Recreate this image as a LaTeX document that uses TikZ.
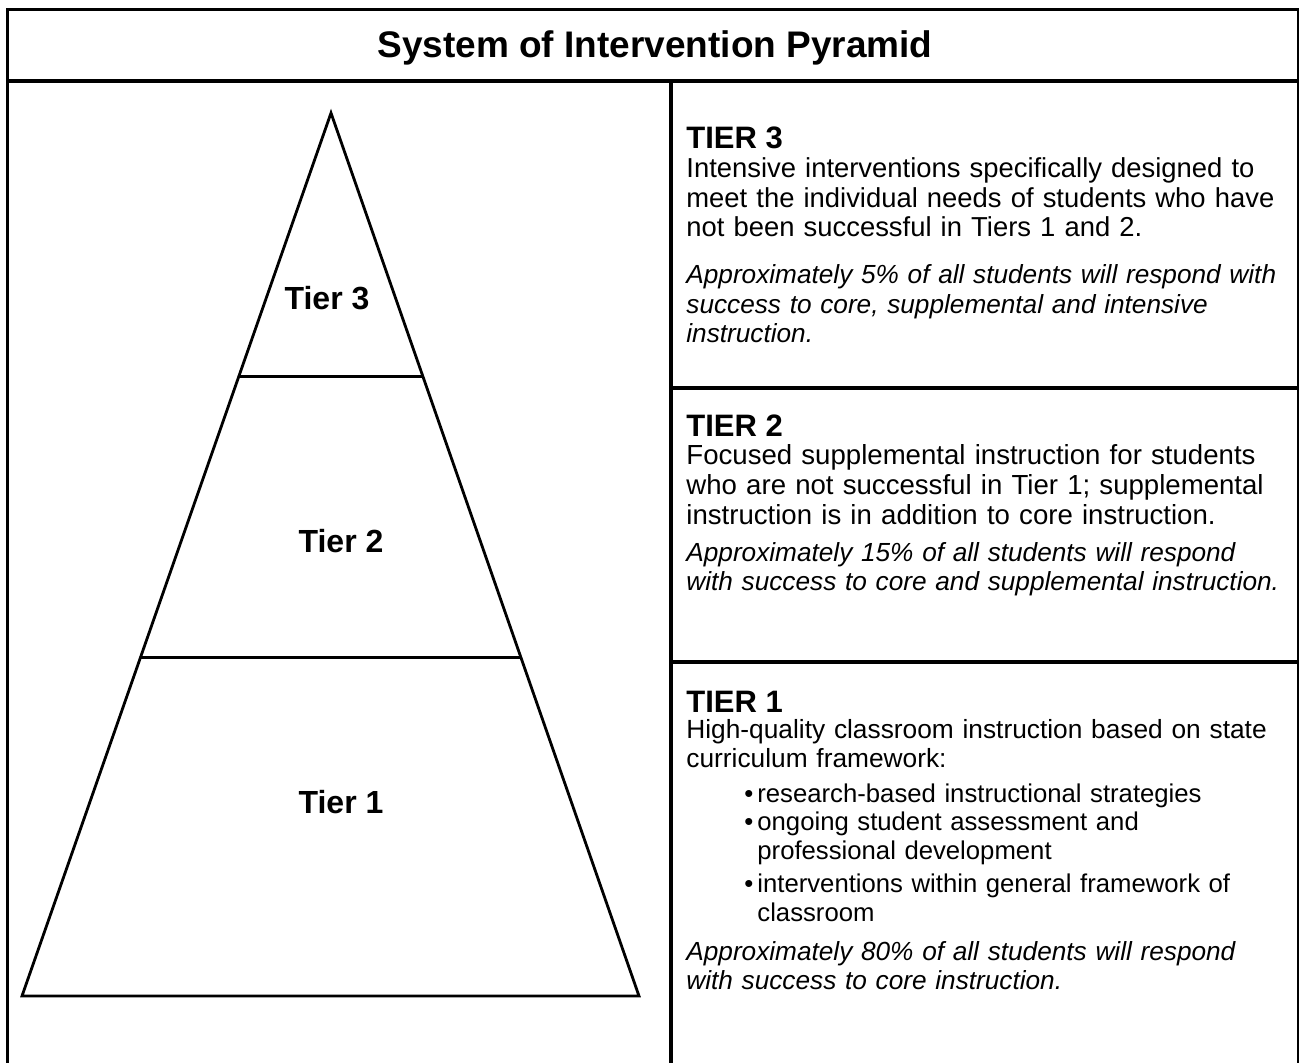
\documentclass[tikz,border=0pt]{standalone}
\usepackage{fontspec}
\setmainfont{Liberation Sans}
\usetikzlibrary{calc}

\tikzset{
  frameline/.style={line width=1.75pt},
  pyrline/.style={line width=1.4pt},
  titletext/.style={font=\fontsize{18.5}{22}\selectfont\bfseries, anchor=base, inner sep=0pt},
  tierlabel/.style={font=\fontsize{16}{19}\selectfont\bfseries, anchor=base, inner sep=0pt},
  tierhead/.style={font=\fontsize{15.5}{18}\selectfont\bfseries, anchor=base west, inner sep=0pt},
  tierbody/.style={font=\fontsize{#1}{14.75}\selectfont, anchor=base west, inner sep=0pt, text width=320pt, align=left},
  tierbody/.default=14,
  tiernote/.style={tierbody, font=\fontsize{13.1}{14.75}\selectfont\itshape},
  tierlist/.style={tierbody, font=\fontsize{12.85}{14.25}\selectfont},
}
\newcommand{\tieritem}[1]{\hspace*{29pt}\makebox[6.5pt][l]{\textbullet}#1}
\newcommand{\tiercont}[1]{\hspace*{35.5pt}#1}

\begin{document}
\begin{tikzpicture}[x=0.5pt, y=-0.5pt]
\useasboundingbox (0,0) rectangle (1299,1063);
\clip (0,0) rectangle (1299,1063);

% table frame
\coordinate (topL) at (7.5,9.5);
\coordinate (topR) at (1299,9.5);
\coordinate (midT) at (671,81);
\draw[frameline] (7.5,1080) -- (topL) -- (topR) -- (1299,1080);
\draw[frameline] (7.5,81) -- (1299,81);
\draw[frameline] (midT) -- (671,1080);
\draw[frameline] (671,388) -- (1299,388);
\draw[frameline] (671,662) -- (1299,662);

\node[titletext] (title) at (655,58) {System of Intervention Pyramid};

% pyramid
\coordinate (apex) at (331,113);
\coordinate (baseL) at (22,996);
\coordinate (baseR) at (639,996);
\draw[pyrline] (apex) -- (baseL) -- (baseR) -- cycle;
\draw[pyrline] ($(apex)!0.298!(baseL)$) -- ($(apex)!0.298!(baseR)$);
\draw[pyrline] ($(apex)!0.617!(baseL)$) -- ($(apex)!0.617!(baseR)$);

\node[tierlabel] (t3) at (327,310) {Tier 3};
\node[tierlabel] (t2) at (341,552) {Tier 2};
\node[tierlabel] (t1) at (341,813) {Tier 1};

% tier 3
\node[tierhead] (h3) at (686,149) {TIER 3};
\node[tierbody=13.7] (b3) at (686,178) {Intensive interventions specifically designed to\\
meet the individual needs of students who have\\
not been successful in Tiers 1 and 2.};
\node[tiernote] (n3) at (686,284) {Approximately 5\% of all students will respond with\\
success to core, supplemental and intensive\\
instruction.};

% tier 2
\node[tierhead] (h2) at (686,437) {TIER 2};
\node[tierbody=13.8] (b2) at (686,465) {Focused supplemental instruction for students\\
who are not successful in Tier 1; supplemental\\
instruction is in addition to core instruction.};
\node[tiernote] (n2) at (686,561) {Approximately 15\% of all students will respond\\
with success to core and supplemental instruction.};

% tier 1
\node[tierhead] (h1) at (686,712) {TIER 1};
\node[tierbody=13.15] (b1) at (686,738) {High-quality classroom instruction based on state\\
curriculum framework:};
\node[tierlist] (l1) at (686,802) {\tieritem{research-based instructional strategies}\\
\tieritem{ongoing student assessment and}\\
\tiercont{professional development}\\[2.5pt]
\tieritem{interventions within general framework of}\\
\tiercont{classroom}};
\node[tiernote] (n1) at (686,960) {Approximately 80\% of all students will respond\\
with success to core instruction.};
\end{tikzpicture}
\end{document}
